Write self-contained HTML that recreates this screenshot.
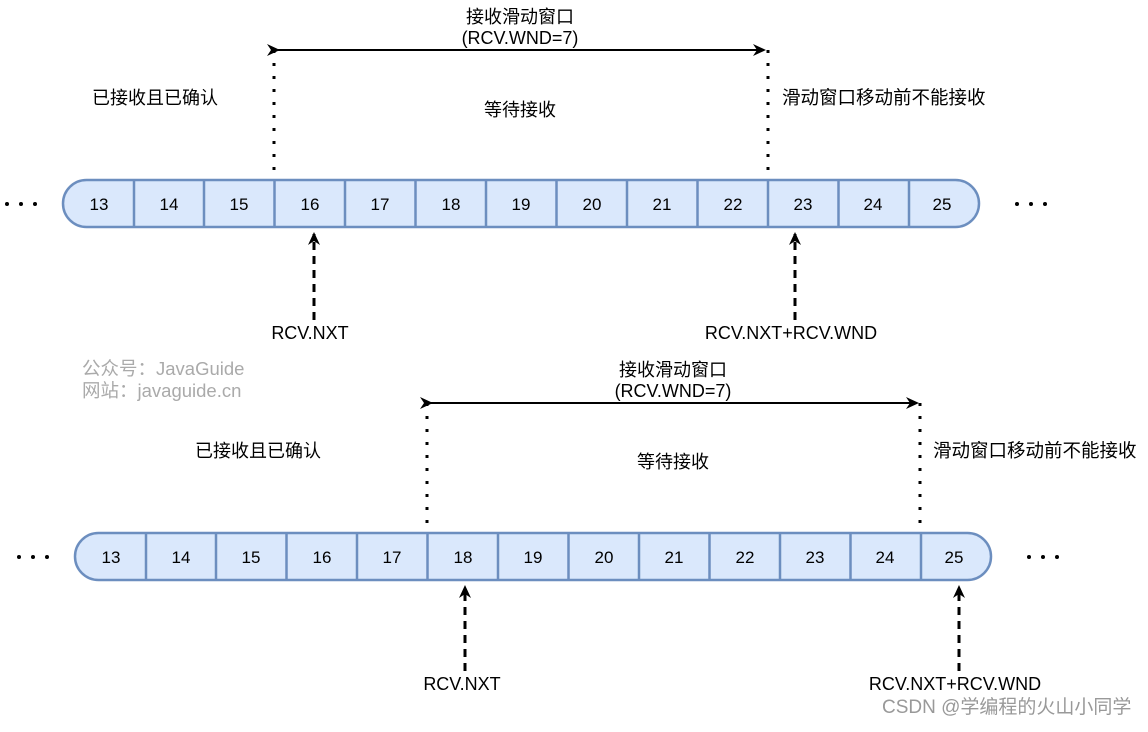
<!DOCTYPE html>
<html><head><meta charset="utf-8"><style>
html,body{margin:0;padding:0;background:#fff;}
text{font-family:"Liberation Sans","Noto Sans CJK SC",sans-serif;}
</style></head><body>
<svg width="1148" height="727" xmlns="http://www.w3.org/2000/svg">
<defs>
<marker id="ah" markerWidth="14" markerHeight="14" refX="11" refY="6" orient="auto" markerUnits="userSpaceOnUse">
<path d="M0,0 L13,6 L0,12 L4,6 Z" fill="#000"/></marker>
<g id="bar">
<rect x="63" y="180" width="916" height="47" rx="23.5" fill="#dae8fc" stroke="#6c8ebf" stroke-width="2.5"/>
<g stroke="#6c8ebf" stroke-width="2.5">
<line x1="134" y1="180" x2="134" y2="227"/><line x1="204" y1="180" x2="204" y2="227"/>
<line x1="274.5" y1="180" x2="274.5" y2="227"/><line x1="345" y1="180" x2="345" y2="227"/>
<line x1="415.5" y1="180" x2="415.5" y2="227"/><line x1="486" y1="180" x2="486" y2="227"/>
<line x1="556.5" y1="180" x2="556.5" y2="227"/><line x1="627" y1="180" x2="627" y2="227"/>
<line x1="697.5" y1="180" x2="697.5" y2="227"/><line x1="768" y1="180" x2="768" y2="227"/>
<line x1="838.5" y1="180" x2="838.5" y2="227"/><line x1="909" y1="180" x2="909" y2="227"/>
</g>
<g font-size="17" text-anchor="middle" fill="#000">
<text x="99" y="210">13</text><text x="169" y="210">14</text><text x="239" y="210">15</text>
<text x="310" y="210">16</text><text x="380" y="210">17</text><text x="451" y="210">18</text>
<text x="521" y="210">19</text><text x="592" y="210">20</text><text x="662" y="210">21</text>
<text x="733" y="210">22</text><text x="803" y="210">23</text><text x="873" y="210">24</text>
<text x="942" y="210">25</text>
</g>
<g fill="#000"><circle cx="7" cy="204" r="2"/><circle cx="21" cy="204" r="2"/><circle cx="35" cy="204" r="2"/>
<circle cx="1017" cy="204" r="2"/><circle cx="1031" cy="204" r="2"/><circle cx="1045" cy="204" r="2"/></g>
</g>
</defs>

<!-- TOP -->
<use href="#bar"/>
<text x="520" y="23" font-size="18" text-anchor="middle">接收滑动窗口</text>
<text x="520" y="44" font-size="18" text-anchor="middle">(RCV.WND=7)</text>
<line x1="278" y1="50" x2="764" y2="50" stroke="#000" stroke-width="2" marker-start="url(#ah)" marker-end="url(#ah)"/>
<line x1="274" y1="50" x2="274" y2="180" stroke="#000" stroke-width="3" stroke-dasharray="3,10"/>
<line x1="768" y1="50" x2="768" y2="180" stroke="#000" stroke-width="3" stroke-dasharray="3,10"/>
<text x="155" y="104" font-size="18" text-anchor="middle">已接收且已确认</text>
<text x="520" y="116" font-size="18" text-anchor="middle">等待接收</text>
<text x="782" y="104" font-size="18.5">滑动窗口移动前不能接收</text>
<line x1="314" y1="320" x2="314" y2="234" stroke="#000" stroke-width="3" stroke-dasharray="8,6" marker-end="url(#ah)"/>
<text x="310" y="339" font-size="18" text-anchor="middle">RCV.NXT</text>
<line x1="795" y1="320" x2="795" y2="234" stroke="#000" stroke-width="3" stroke-dasharray="8,6" marker-end="url(#ah)"/>
<text x="791" y="339" font-size="18" text-anchor="middle">RCV.NXT+RCV.WND</text>

<text x="82" y="375" font-size="18.5" fill="#aaa">公众号：JavaGuide</text>
<text x="82" y="397" font-size="18.5" fill="#aaa">网站：javaguide.cn</text>

<!-- BOTTOM -->
<use href="#bar" transform="translate(12,353)"/>
<text x="673" y="376" font-size="18" text-anchor="middle">接收滑动窗口</text>
<text x="673" y="397" font-size="18" text-anchor="middle">(RCV.WND=7)</text>
<line x1="431" y1="403" x2="917" y2="403" stroke="#000" stroke-width="2" marker-start="url(#ah)" marker-end="url(#ah)"/>
<line x1="427" y1="403" x2="427" y2="533" stroke="#000" stroke-width="3" stroke-dasharray="3,10"/>
<line x1="920" y1="403" x2="920" y2="533" stroke="#000" stroke-width="3" stroke-dasharray="3,10"/>
<text x="258" y="457" font-size="18" text-anchor="middle">已接收且已确认</text>
<text x="673" y="468" font-size="18" text-anchor="middle">等待接收</text>
<text x="933" y="457" font-size="18.5">滑动窗口移动前不能接收</text>
<line x1="465" y1="671" x2="465" y2="587" stroke="#000" stroke-width="3" stroke-dasharray="8,6" marker-end="url(#ah)"/>
<text x="462" y="690" font-size="18" text-anchor="middle">RCV.NXT</text>
<line x1="959" y1="671" x2="959" y2="587" stroke="#000" stroke-width="3" stroke-dasharray="8,6" marker-end="url(#ah)"/>
<text x="955" y="690" font-size="18" text-anchor="middle">RCV.NXT+RCV.WND</text>

<text x="882" y="713" font-size="19" fill="#999">CSDN @学编程的火山小同学</text>
</svg>
</body></html>
